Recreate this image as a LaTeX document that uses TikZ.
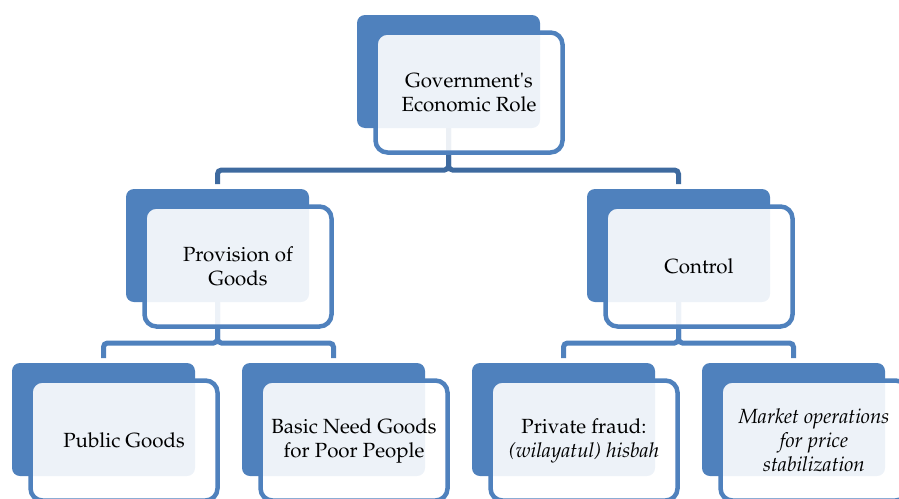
\documentclass[tikz,border=0pt]{standalone}
\usepackage[T1]{fontenc}
\usepackage{mathpazo}
\definecolor{boxblue}{HTML}{4F81BD}
\definecolor{trunkblue}{HTML}{3E6A9F}
\tikzset{
  back/.style  = {fill=boxblue, rounded corners=8pt, inner sep=0pt, outer sep=0pt,
                  minimum width=183pt, minimum height=113pt, anchor=north west},
  front/.style = {draw=boxblue, line width=4.5pt, fill=white, fill opacity=0.9,
                  text opacity=1, rounded corners=12pt, outer sep=0pt,
                  minimum width=187pt, minimum height=120pt, anchor=north west,
                  align=center, font=\fontsize{20.5}{24}\selectfont},
  trunk/.style = {draw=trunkblue, line width=5pt, rounded corners=4pt, shorten >=5pt},
  link/.style  = {draw=boxblue, line width=5pt, rounded corners=4pt, shorten >=5pt}
}

\begin{document}
\begin{tikzpicture}[x=1pt, y=-1pt]
  \useasboundingbox (0,0) rectangle (899,498);
  % solid blocks behind
  \node[back] (gov-b)    at (357,15)  {};
  \node[back] (prov-b)   at (126,189) {};
  \node[back] (ctrl-b)   at (587,189) {};
  \node[back] (pub-b)    at (12,363)  {};
  \node[back] (basic-b)  at (242,363) {};
  \node[back] (fraud-b)  at (472,363) {};
  \node[back] (market-b) at (702,363) {};
  % connectors
  \draw[trunk] (gov-b.south) -- ++(0,42) -| (prov-b.north);
  \draw[trunk] (gov-b.south) -- ++(0,42) -| (ctrl-b.north);
  \draw[link] (prov-b.south) -- ++(0,41) -| (pub-b.north);
  \draw[link] (prov-b.south) -- ++(0,41) -| (basic-b.north);
  \draw[link] (ctrl-b.south) -- ++(0,41) -| (fraud-b.north);
  \draw[link] (ctrl-b.south) -- ++(0,41) -| (market-b.north);
  % framed text boxes
  \node[front] (gov)    at ([shift={(18.5,17.5)}]gov-b.north west)    {Government\textquotesingle s\\Economic Role};
  \node[front] (prov)   at ([shift={(18.5,17.5)}]prov-b.north west)   {Provision of\\Goods};
  \node[front] (ctrl)   at ([shift={(18.5,17.5)}]ctrl-b.north west)   {Control};
  \node[front] (pub)    at ([shift={(18.5,17.5)}]pub-b.north west)    {Public Goods};
  \node[front] (basic)  at ([shift={(18.5,17.5)}]basic-b.north west)  {Basic Need Goods\\for Poor People};
  \node[front] (fraud)  at ([shift={(18.5,17.5)}]fraud-b.north west)  {Private fraud:\\\textit{(wilayatul) hisbah}};
  \node[front] (market) at ([shift={(18.5,17.5)}]market-b.north west) {\textit{Market operations}\\\textit{for price}\\\textit{stabilization}};
\end{tikzpicture}
\end{document}
